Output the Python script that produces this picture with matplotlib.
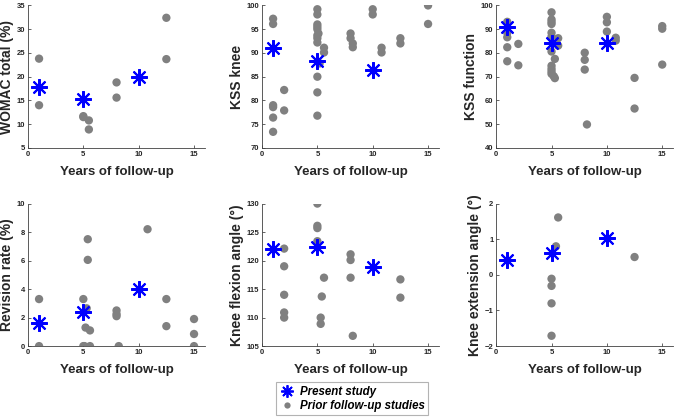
import matplotlib
matplotlib.use("Agg")
import matplotlib.pyplot as plt
from matplotlib.lines import Line2D

plt.rcParams['font.family'] = ['Liberation Sans', 'DejaVu Sans']
plt.rcParams['font.weight'] = 'bold'

# Present study (follow-up year, value)
womac_present_x = [1, 5, 10]
womac_present_y = [17.8, 15.4, 20.0]
womac_prior_x = [1, 1, 5, 5, 5.5, 5.5, 8, 8, 12.5, 12.5]
womac_prior_y = [23.8, 14.0, 11.7, 11.5, 10.8, 8.9, 18.8, 15.6, 32.4, 23.7]

knee_present_x = [1, 5, 10]
knee_present_y = [91.0, 88.3, 86.4]
knee_prior_x = [1, 1, 1, 1, 1, 1, 2, 2,
                5, 5, 5, 5, 5, 5.1, 5, 5, 5, 5.2, 5, 5, 5,
                5.6, 5.6, 8, 8, 8.2, 8.2, 10, 10, 10.8, 10.8,
                12.5, 12.5, 15, 15]
knee_prior_y = [97.2, 96.1, 79.0, 78.6, 76.4, 73.4, 82.2, 77.9,
                99.2, 98.1, 96.0, 95.5, 95.0, 94.1, 93.7, 93.1, 92.2, 87.8, 85.0, 81.7, 76.8,
                91.1, 90.1, 94.1, 93.1, 92.0, 91.2, 99.2, 98.1, 91.1, 90.1,
                93.1, 92.0, 100.0, 96.1]

func_present_x = [1, 5, 10]
func_present_y = [90.9, 84.3, 84.3]
func_prior_x = [1, 1, 1, 1, 1, 2, 2,
                5, 5, 5, 5, 5, 5, 5, 5, 5, 5, 5, 5.3, 5.3, 5.2, 5.6, 5.6,
                8, 8, 8, 8.2, 10, 10, 10, 10.8, 10.8, 12.5, 12.5, 15, 15, 15]
func_prior_y = [93.1, 88.5, 86.6, 82.4, 76.5, 83.8, 74.8,
                97.1, 94.1, 93.1, 92.2, 88.5, 86.9, 80.6, 74.6, 73.3, 72.2, 71.2, 77.5, 69.4, 70.2, 86.2, 83.1,
                80.1, 77.1, 73.0, 49.9, 95.2, 92.9, 89.0, 86.4, 85.2, 69.5, 56.6, 91.3, 90.2, 75.1]

rev_present_x = [1, 5, 10]
rev_present_y = [1.6, 2.4, 4.0]
rev_prior_x = [1, 1, 5, 5, 5.1, 5.3, 5.2, 5.6, 5.4, 5.4, 5.6,
               8, 8, 8, 8.2, 10.8, 12.5, 12.5, 15, 15, 15]
rev_prior_y = [3.3, 0.0, 3.3, 0.0, 0.0, 2.65, 1.3, 1.1, 7.5, 6.05, 0.0,
               2.5, 2.25, 2.1, 0.0, 8.2, 3.3, 1.4, 1.9, 0.85, 0.0]

flex_present_x = [1, 5, 10]
flex_present_y = [121.95, 122.45, 118.9]
flex_prior_x = [2, 2, 2, 2, 2, 5, 5, 5, 5, 5.6, 5.4, 5.3, 5.3,
                8, 8, 8, 8.2, 12.5, 12.5]
flex_prior_y = [122.1, 119.0, 114.0, 110.9, 110.0, 130.0, 126.1, 125.7, 123.4, 117.0, 113.7, 110.0, 108.9,
                121.1, 120.1, 117.0, 106.8, 116.7, 113.5]

ext_present_x = [1, 5, 10]
ext_present_y = [0.43, 0.61, 1.03]
ext_prior_x = [5.6, 5.4, 5, 5, 5, 5, 12.5]
ext_prior_y = [1.61, 0.8, -0.11, -0.31, -0.8, -1.71, 0.5]

panels = [
    ("WOMAC total (%)", womac_present_x, womac_present_y, womac_prior_x, womac_prior_y, (5, 35), [5, 10, 15, 20, 25, 30, 35]),
    ("KSS knee", knee_present_x, knee_present_y, knee_prior_x, knee_prior_y, (70, 100), [70, 75, 80, 85, 90, 95, 100]),
    ("KSS function", func_present_x, func_present_y, func_prior_x, func_prior_y, (40, 100), [40, 50, 60, 70, 80, 90, 100]),
    ("Revision rate (%)", rev_present_x, rev_present_y, rev_prior_x, rev_prior_y, (0, 10), [0, 2, 4, 6, 8, 10]),
    ("Knee flexion angle (°)", flex_present_x, flex_present_y, flex_prior_x, flex_prior_y, (105, 130), [105, 110, 115, 120, 125, 130]),
    ("Knee extension angle (°)", ext_present_x, ext_present_y, ext_prior_x, ext_prior_y, (-2, 2), [-2, -1, 0, 1, 2]),
]

gray = '#808080'
blue = '#0000ff'
star = (8, 2, 0)

fig = plt.figure(figsize=(6.76, 4.18), dpi=100)
lefts = [0.0414, 0.3876, 0.734]
bottoms = [0.646, 0.172]
w, h = 0.262, 0.341

for i, (label, px, py, qx, qy, ylim, yticks) in enumerate(panels):
    ax = fig.add_axes([lefts[i % 3], bottoms[i // 3], w, h])
    ax.scatter(qx, qy, s=36, color=gray, edgecolors='none', zorder=2)
    ax.plot(px, py, linestyle='none', marker=star, markersize=12, markeredgewidth=1.5,
            color=blue, zorder=3)
    ax.set_xlim(0, 16)
    ax.set_ylim(*ylim)
    ax.set_xticks([0, 5, 10, 15])
    ax.set_yticks(yticks)
    ax.spines['right'].set_visible(False)
    ax.spines['top'].set_visible(False)
    for sp in ['left', 'bottom']:
        ax.spines[sp].set_color('#404040')
        ax.spines[sp].set_linewidth(0.6)
    ax.tick_params(direction='in', length=2, width=0.5, labelsize=5.5, colors='#262626', pad=2)
    for t in ax.get_xticklabels() + ax.get_yticklabels():
        t.set_fontweight('bold')
    ax.set_ylabel(label, fontsize=10, fontweight='bold', color='#262626', labelpad=2)
    ax.set_xlabel("Years of follow-up", fontsize=9.5, fontweight='bold', color='#262626', labelpad=6)

handles = [
    Line2D([], [], linestyle='none', marker=star, markersize=9, markeredgewidth=1.3, color=blue),
    Line2D([], [], linestyle='none', marker='o', markersize=4.5, color=gray, markeredgecolor='none'),
]
leg = fig.legend(handles, ["Present study", "Prior follow-up studies"],
                 loc='lower left', bbox_to_anchor=(0.408, 0.007), borderaxespad=0,
                 frameon=True, fancybox=False,
                 prop={'size': 8.3, 'weight': 'bold', 'style': 'italic'},
                 handletextpad=0.5, borderpad=0.3, labelspacing=0.15, handlelength=1.3)
leg.get_frame().set_edgecolor('#a0a0a0')
leg.get_frame().set_linewidth(0.8)

fig.savefig("out.png", dpi=100)
